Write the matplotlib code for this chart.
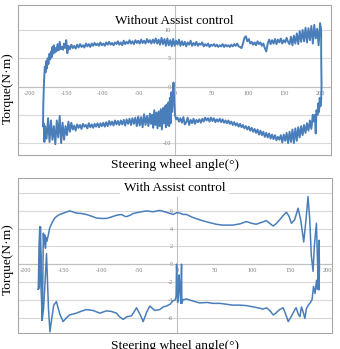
import matplotlib
matplotlib.use('Agg')
import matplotlib.pyplot as plt
from matplotlib.patches import Rectangle

plt.rcParams['axes.unicode_minus'] = False

#############################################################################
# top chart: without assist control (upper branch left->right, lower right->left)
up1_x = [-182, -181.5, -180.5, -179.5, -178.5, -177.5, -176.5, -175.5, -174.5, -173, -172, -171, -170, -169,
         -168, -167, -166, -165, -163.5, -162, -160.5, -159, -157.5, -156, -154.5, -153, -151.5, -150,
         -148.5, -147, -145, -143, -141, -139, -137, -135, -133, -131, -129, -127, -125, -123, -121, -119,
         -117, -115, -113, -111, -109, -107, -105, -103, -101, -99, -97, -95, -93, -91, -89, -87, -85, -83,
         -81, -79, -77, -75, -73, -71, -69, -67, -65, -63, -61, -59, -57, -55, -53, -51, -49, -47, -45, -43,
         -41, -39, -37, -35, -33, -31, -29, -27, -25, -23, -21, -19, -17, -15, -13, -11, -9, -7, -5, -3, -1,
         1, 3, 5, 7, 9, 11, 13, 15, 17, 19, 21, 23, 25, 27, 29, 31, 33, 35, 37, 39, 41, 43, 45, 47, 49, 51,
         53, 55, 57, 59, 61, 63, 65, 67, 69, 71, 73, 75, 77, 79, 81, 83, 85, 87, 89, 91, 93, 95, 97, 99, 101,
         103, 105, 107, 109, 111, 113, 115, 117, 119, 121, 123, 125, 127, 129, 131, 133, 135, 137, 139, 141,
         143, 145, 147, 149, 151, 153, 155, 157, 159, 161, 163, 165, 167, 169, 171, 173, 175, 177, 179, 181,
         183, 185, 187, 189, 191, 193, 195, 197, 199, 200.5]
up1_y = [-7.0, -3.0, 1.0, 3.5, 2.5, 4.5, 3.2, 5.0, 4.0, 5.8, 4.8, 6.2, 5.2, 7.0,
         5.8, 7.3, 6.0, 6.8, 6.2, 7.5, 6.4, 7.9, 6.6, 7.0, 6.5, 7.6, 6.8, 8.2,
         5.9, 7.2, 6.6, 7.4, 6.8, 7.2, 6.7, 7.4, 6.9, 7.5, 7.0, 7.3, 6.9, 7.6, 7.1, 7.5,
         7.0, 7.6, 7.2, 7.7, 7.3, 7.6, 7.2, 7.8, 7.3, 7.6, 7.2, 7.8, 7.4, 7.9, 7.4, 7.7, 7.3, 7.8,
         7.5, 8.0, 7.4, 7.8, 7.3, 8.1, 7.5, 7.9, 7.6, 8.2, 7.6, 8.0, 7.5, 8.2, 7.7, 8.1, 7.6, 8.3, 7.7, 8.1,
         7.6, 8.4, 7.8, 8.2, 7.6, 8.3, 7.7, 8.5, 7.6, 8.3, 7.4, 8.6, 7.5, 8.4, 7.2, 8.5, 7.3, 8.2, 7.1, 8.4, 7.2,
         8.1, 7.4, 8.3, 7.2, 8.0, 7.3, 7.9, 7.1, 7.8, 7.4, 8.1, 7.2, 7.7, 7.3, 7.9, 7.2, 7.6, 7.4, 7.8, 7.1, 7.5,
         7.2, 7.6, 7.0, 7.4, 7.2, 7.5, 7.1, 7.4, 7.0, 7.3, 7.1, 7.5, 7.0, 7.4, 7.1, 7.3, 7.0, 7.4, 7.1, 7.5,
         7.2, 7.6, 7.1, 7.0, 6.8, 7.6, 8.6, 8.9, 8.0, 8.4,
         7.6, 7.9, 7.4, 7.8, 7.3, 8.0, 7.5, 7.8, 7.2, 7.6, 6.8, 6.2, 7.6, 8.3, 7.5, 8.2, 7.6, 8.4, 7.5, 8.3,
         7.8, 8.5, 7.6, 8.2, 7.8, 8.6, 7.9, 7.5, 8.8, 7.3, 9.0, 7.6, 9.4, 7.5, 9.8, 7.9, 10.0, 8.0, 10.4, 7.8,
         10.3, 8.2, 10.7, 7.6, 10.9, 8.5, 10.2, 7.3, 11.2, 10.0]

lo1_x = [200.5, 201, 200.5, 199.5, 198.5, 197.5, 196.5, 195.5, 194, 193, 192, 190, 189, 187, 185, 183, 181,
         179, 177, 175, 173, 171, 169, 167, 165, 163, 161, 159, 157, 155, 153, 151, 149, 147, 145, 143, 141,
         139, 137, 135, 133, 131, 129, 127, 125, 123, 121, 119, 117, 115, 113, 111, 109, 107, 105, 103, 101,
         99, 97, 95, 93, 91, 89, 87, 85, 83, 81, 79, 77, 75, 73, 71, 69, 67, 65, 63, 61, 59, 57, 55, 53, 51,
         49, 47, 45, 43, 41, 39, 37, 35, 33, 31, 29, 27, 25, 23, 21, 19, 17, 15, 13, 11, 9, 7, 5, 3, 1,
         -0.5, -1.5, -2.5, -3.5, -4.5, -5.5, -6.5, -7.5, -8.5, -9.5, -11, -12, -13, -14.5, -16, -17, -18.5,
         -20, -21.5, -23, -24.5, -26, -27.5, -29, -30.5, -32, -33.5, -35, -37, -39, -41, -43, -45, -47, -49,
         -51, -53, -55, -57, -59, -61, -63, -65, -67, -69, -71, -73, -75, -77, -79, -81, -83, -85, -87, -89,
         -91, -93, -95, -97, -99, -101, -103, -105, -107, -109, -111, -113, -115, -117, -119, -121, -123,
         -125, -127, -129, -131, -133, -135, -137, -139, -141, -143, -145, -147, -149, -151, -153, -155,
         -157, -159, -161, -163, -165, -167, -169, -171, -173, -175, -177, -179, -180, -181, -182]
lo1_y = [6.0, 0.0, -2.5, -3.5, -2.0, -4.5, -3.0, -5.0, -4.2, -8.3, -5.0, -6.2, -5.0, -7.5, -6.0, -7.8, -6.5,
         -8.2, -6.8, -8.6, -7.0, -9.0, -7.2, -9.6, -7.4, -10.0, -7.6, -9.8, -8.0, -10.0, -8.2, -9.6, -8.5, -9.9,
         -8.6, -9.4, -8.9, -9.5, -8.6, -9.3, -8.5, -9.2, -8.3, -9.0, -8.2, -8.9, -8.0, -8.6, -7.8, -8.5, -7.6,
         -8.2, -7.5, -8.0, -7.3, -7.8, -7.1, -7.6, -7.0, -7.4, -6.8, -7.2, -6.6, -7.1, -6.5, -6.9, -6.3, -6.8,
         -6.2, -6.6, -6.0, -6.5, -6.0, -6.4, -5.8, -6.3, -5.7, -6.2, -5.8, -6.3, -5.6, -6.1, -5.5, -6.2, -5.6,
         -6.0, -5.5, -6.2, -5.7, -6.4, -5.8, -6.3, -5.9, -6.6, -5.7, -6.5, -5.9, -6.8, -5.5, -6.3, -6.7, -5.4,
         -6.4, -5.6, -6.2, -5.5, -5.8,
         -5.0, -3.0, 0.7, -1.5, -4.5, -1.0, -6.5, -2.0, -7.0, -2.8, -6.8, -3.2, -7.2, -3.5, -6.5, -3.8, -7.6,
         -4.0, -7.0, -4.4, -7.4, -4.6, -6.8, -4.2, -7.3, -5.0, -6.6, -4.8, -7.0, -5.2, -6.8, -4.9, -7.2, -5.4,
         -6.9, -5.3, -7.0, -5.5, -6.6, -5.6, -6.8, -5.7, -6.6, -5.8, -6.9, -5.9, -6.7, -6.0, -6.8, -6.1, -6.7,
         -6.0, -6.9, -6.2, -6.8, -6.1, -7.0, -6.3, -7.1, -6.4, -7.0, -6.5, -7.2, -6.5, -7.1, -6.6, -7.3, -6.7,
         -7.2, -6.5, -7.4, -6.8, -7.1, -6.6, -7.5, -6.8, -7.3, -6.7, -7.8, -6.9, -7.6, -6.4, -8.0, -6.2, -8.6,
         -7.0, -9.4, -6.4, -10.0, -5.2, -9.0, -6.0, -10.2, -7.0, -9.4, -6.0, -9.8, -5.6, -9.2, -7.0, -9.8,
         -6.5, -7.0]

# bottom chart: with assist control
up2_x = [-183.5, -182.5, -181.5, -180.5, -179.5, -178.4, -177.5, -176.8, -176, -175, -174, -173, -171.9,
         -170, -168.3, -165, -161.7, -158, -155.1, -150, -146.3, -141.9, -138, -133.1, -126, -119.9, -113,
         -106.6, -100, -93.4, -87, -80.1, -73.5, -69, -66.9, -62, -58.1, -50, -40.4, -31.6, -22.7, -14,
         -5, 0, 4, 8, 12.6, 20, 30, 40, 52, 60, 74, 84, 92, 99, 105, 112, 118.5, 123, 127.4, 132, 136.2,
         141, 145, 148.5, 151.7, 156, 160.5, 164, 168, 171, 173.7, 176, 178, 180.4, 182, 184.8, 186, 187,
         188.3, 188.8, 188]
up2_y = [-2.8, 2.0, 4.2, 0.5, -3.0, -6.3, -2.0, 3.5, 2.2, 3.3, 1.8, 3.0, 2.6,
         3.4, 4.1, 4.7, 5.2, 5.45, 5.6, 5.75, 5.85, 6.0, 5.9, 5.75, 5.7, 5.6, 5.4,
         5.2, 5.15, 5.15, 5.3, 5.5, 5.6, 5.4, 5.35, 5.5, 5.7, 5.85, 6.0, 5.9, 6.05, 5.85,
         5.6, 5.8, 5.75, 5.6, 5.6, 5.3, 5.0, 4.75, 4.5, 4.4, 4.4, 4.55, 4.8, 4.6, 4.5, 4.7, 4.9, 4.6,
         4.3, 4.6, 5.0, 5.5, 5.85, 5.4, 4.6, 5.0, 6.3, 5.0, 2.5, 5.0, 7.6, 5.0, 1.0, -0.8, 2.0, 4.6,
         1.0, -1.5, 2.7, -0.5, -2.9]

lo2_x = [187, 186, 185, 183, 181, 179, 176, 174, 171.5, 169.5, 167, 165, 163, 160.7, 158, 156.3, 152,
         147.5, 144, 140.8, 136, 131, 127.6, 123, 118.8, 114, 110, 104, 101, 92, 83.4, 74, 65, 57, 48, 40,
         30, 20, 12.6, 8, 6.6, 6.2, 5.2, 4, 3, 2, 1, 0.2, -0.4, -1, -2, -5.1, -9, -13.9, -18, -22.7, -29.3,
         -35.8, -40, -44.6, -49, -53.4, -60, -66, -71, -76, -80, -87, -93.4, -102, -111, -120, -127, -133,
         -142, -146, -150.6, -155, -159.5, -163, -166, -168, -170, -172.6, -174.5, -176.5, -178.4, -179.5,
         -180.6, -181.5, -182.3, -183.5]
lo2_y = [-1.0, -2.8, -1.8, -3.3, -2.5, -4.0, -4.4, -4.6, -5.0, -6.1, -5.3, -4.8, -5.9, -5.6, -4.9, -5.1,
         -5.8, -6.45, -5.6, -4.9, -5.1, -5.5, -5.7, -5.2, -4.9, -5.05, -4.95, -4.85, -4.8, -4.65, -4.6, -4.6,
         -4.5, -4.4, -4.4, -4.3, -4.35, -4.1, -3.9, -4.0, -4.4, 0.0, -4.4, -2.8, -1.2, -3.5, -4.3, -2.0, 0.0,
         -3.6, -4.0, -4.1, -4.5, -4.7, -4.8, -5.1, -5.2, -4.7, -5.4, -6.45, -5.6, -4.9, -5.8, -5.9, -6.2,
         -5.9, -5.5, -5.3, -5.25, -5.5, -5.2, -5.1, -5.3, -5.5, -5.7, -6.0, -6.45, -5.6, -4.2, -4.6, -6.3,
         -7.6, -5.0, 1.2, -2.0, -5.0, -6.3, -1.0, 4.2, 1.0, -2.7, -2.8]

x_ticks = [-200, -150, -100, -50, 0, 50, 100, 150, 200]
y_ticks_top = [-10, -5, 0, 5, 10]
y_ticks_bot = [-6, -4, -2, 0, 2, 4, 6, 8]
#############################################################################

blue = '#4a7ebb'
serif = 'Liberation Serif'

fig = plt.figure(figsize=(3.4, 3.49), dpi=100)


def style(ax, yt, xl, yl):
    ax.set_xlim(*xl)
    ax.set_ylim(*yl)
    ax.set_xticks(x_ticks)
    ax.set_yticks(yt)
    ax.spines['top'].set_visible(False)
    ax.spines['right'].set_visible(False)
    ax.spines['bottom'].set_position(('data', 0))
    ax.spines['left'].set_position(('data', 0))
    ax.spines['bottom'].set_color('#bfbfbf')
    ax.spines['left'].set_color('#bfbfbf')
    ax.spines['bottom'].set_linewidth(0.8)
    ax.spines['left'].set_linewidth(0.8)
    ax.tick_params(axis='both', length=0, labelsize=4.5, labelcolor='#7f7f7f', pad=3)
    for lab in ax.get_xticklabels() + ax.get_yticklabels():
        lab.set_family(serif)
    ax.yaxis.grid(True, color='#d9d9d9', linewidth=0.8)
    ax.set_axisbelow(True)
    ax.add_patch(Rectangle((0, 0), 1, 1, transform=ax.transAxes, fill=False,
                           edgecolor='#a6a6a6', linewidth=0.8, clip_on=False, zorder=5))


###########################################################################
ax = fig.add_axes([0.0515, 0.556, 0.922, 0.431])
style(ax, y_ticks_top, (-217, 214), (-12.1, 14.5))
ax.plot(up1_x + lo1_x, up1_y + lo1_y, color=blue, linewidth=1.4, zorder=3)
ax.text(0.5, 0.89, 'Without Assist control', transform=ax.transAxes, ha='center', va='center',
        fontsize=9.5, family=serif)
fig.text(0.515, 0.543, 'Steering wheel angle(°)', ha='center', va='top', fontsize=9.7, family=serif)
fig.text(0.024, 0.748, 'Torque(N·m)', ha='center', va='center', rotation=90, fontsize=9.7, family=serif)

###########################################################################
ax = fig.add_axes([0.0515, 0.0467, 0.924, 0.4441])
style(ax, y_ticks_bot, (-211, 205), (-7.7, 9.73))
ax.plot(up2_x + lo2_x, up2_y + lo2_y, color=blue, linewidth=1.1, zorder=3)
ax.text(0.5, 0.934, 'With Assist control', transform=ax.transAxes, ha='center', va='center',
        fontsize=9.5, family=serif, zorder=6,
        bbox=dict(facecolor='white', edgecolor='none', pad=2.5))
fig.text(0.515, 0.027, 'Steering wheel angle(°)', ha='center', va='top', fontsize=9.7, family=serif)
fig.text(0.024, 0.258, 'Torque(N·m)', ha='center', va='center', rotation=90, fontsize=9.7, family=serif)

fig.savefig('out.png', dpi=100)
